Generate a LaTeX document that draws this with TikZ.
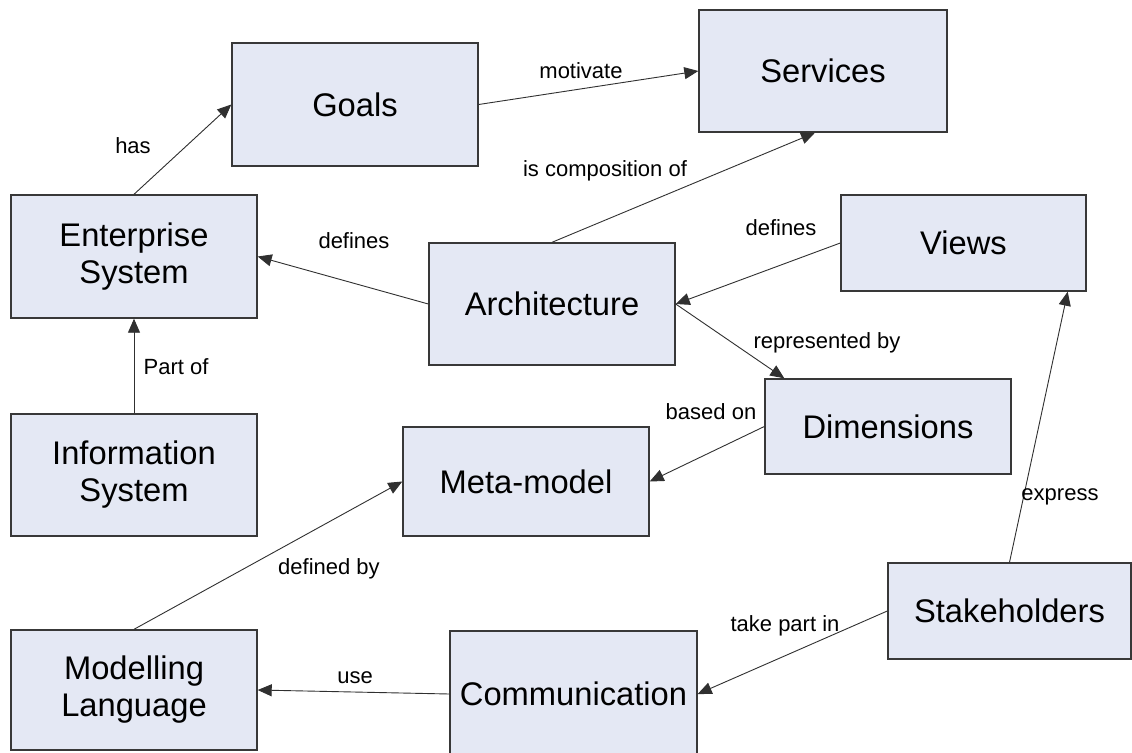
\documentclass[tikz,border=0pt]{standalone}
\usepackage{fontspec}
\setmainfont{Liberation Sans}
\usetikzlibrary{arrows.meta}
\definecolor{boxfill}{HTML}{E4E8F4}
\definecolor{boxline}{HTML}{383838}
\definecolor{wire}{HTML}{303030}
\tikzset{
  box/.style={draw=boxline, line width=1.4pt, fill=boxfill, rectangle,
    inner sep=0pt, align=center,
    font=\fontsize{32.7}{37}\selectfont},
  link/.style={draw=wire, line width=0.9pt,
    -{Triangle[length=14pt,width=12pt]}},
  lbl/.style={inner sep=0pt, font=\fontsize{22}{25}\selectfont}
}
\begin{document}
\begin{tikzpicture}[x=1pt,y=-1pt]
\useasboundingbox (0,0) rectangle (1132,752);
\clip (0,0) rectangle (1132,752);
\fill[white] (0,0) rectangle (1132,752);

% concept boxes
\node[box, minimum width=246, minimum height=123] (goals) at (355,104.5) {Goals};
\node[box, minimum width=248, minimum height=122] (services) at (823,71) {Services};
\node[box, minimum width=246, minimum height=123] (es) at (134,256.5) {Enterprise\\System};
\node[box, minimum width=246, minimum height=122] (arch) at (552,304) {Architecture};
\node[box, minimum width=245, minimum height=96] (views) at (963.5,243) {Views};
\node[box, minimum width=246, minimum height=95] (dim) at (888,426.5) {Dimensions};
\node[box, minimum width=246, minimum height=122] (is) at (134,475) {Information\\System};
\node[box, minimum width=246, minimum height=109] (meta) at (526,481.5) {Meta-model};
\node[box, minimum width=243, minimum height=96] (stake) at (1009.5,611) {Stakeholders};
\node[box, minimum width=246, minimum height=120] (ml) at (134,690) {Modelling\\Language};
\node[box, minimum width=247, minimum height=126] (comm) at (573.5,694) {Communication};

% relations
\draw[link] (es.north) -- (goals.west);
\draw[link] (goals.east) -- (services.west);
\draw[link] (arch.north) -- ([xshift=-8pt]services.south);
\draw[link] (arch.west) -- (es.east);
\draw[link] (views.west) -- (arch.east);
\draw[link] (arch.east) -- ([xshift=20pt]dim.north west);
\draw[link] (dim.west) -- (meta.east);
\draw[link] (is.north) -- (es.south);
\draw[link] (ml.north) -- (meta.west);
\draw[link] (stake.west) -- (comm.east);
\draw[link] (comm.west) -- (ml.east);
\draw[link] (stake.north) -- ([xshift=-19pt]views.south east);

% relation labels
\node[lbl] (lhas) at (133,146) {has};
\node[lbl] (lmot) at (581,71) {motivate};
\node[lbl] (lcomp) at (605,171) {is composition of};
\node[lbl] (ldefes) at (354,241) {defines};
\node[lbl] (ldefviews) at (781,228) {defines};
\node[lbl] (lrep) at (827,343) {represented by};
\node[lbl] (lbased) at (711,412) {based on};
\node[lbl] (lpart) at (176,367) {Part of};
\node[lbl] (lexpr) at (1060,497) {express};
\node[lbl] (ldefby) at (329,569) {defined by};
\node[lbl] (ltake) at (785,626) {take part in};
\node[lbl] (luse) at (355,678) {use};
\end{tikzpicture}
\end{document}
